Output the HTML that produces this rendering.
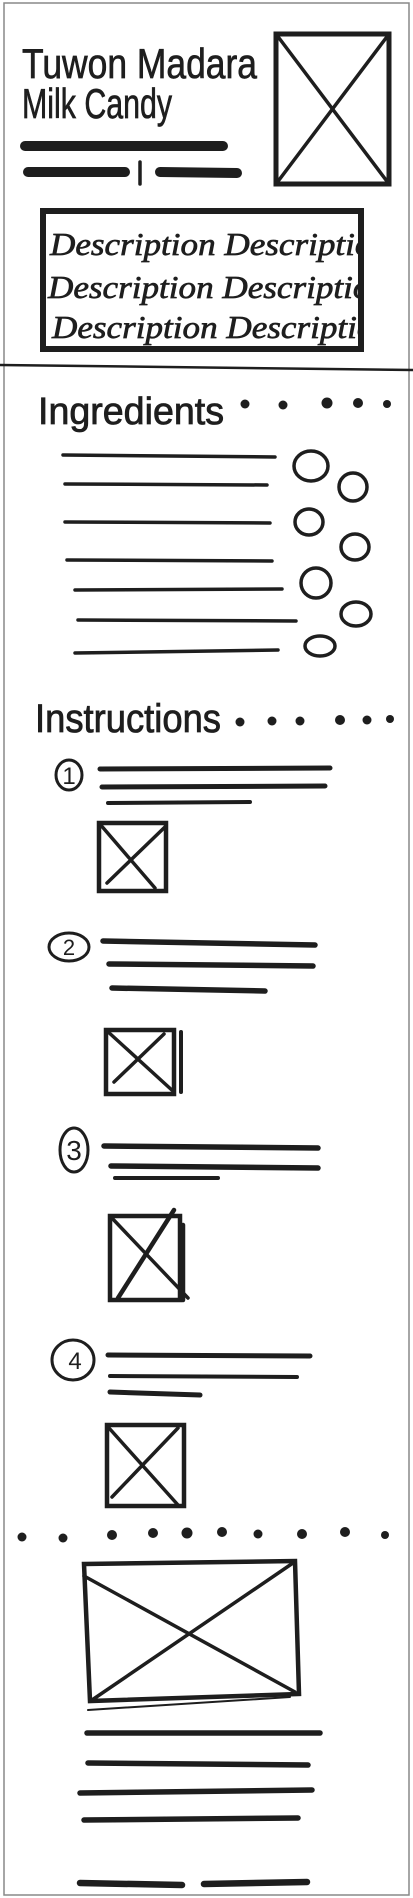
<!DOCTYPE html>
<html><head><meta charset="utf-8">
<style>
html,body{margin:0;padding:0;background:#fff;}
svg{display:block;}
text{font-family:"Liberation Sans",sans-serif;fill:#1e1e1e;}
.desc{font-family:"Liberation Serif",serif;font-style:italic;}
</style></head>
<body>
<svg width="413" height="1898" viewBox="0 0 413 1898" stroke="#1e1e1e" stroke-linecap="round" fill="none">
<rect x="4" y="3" width="405" height="1892" stroke="#888" stroke-width="1.5"/>

<g stroke="#1e1e1e" stroke-width="0.6" fill="#1e1e1e">
<text x="22" y="78" font-size="36" transform="translate(22 78) scale(1 1.15) translate(-22 -78)" textLength="235" lengthAdjust="spacingAndGlyphs">Tuwon Madara</text>
<text x="22" y="118" font-size="36" transform="translate(22 118) scale(1 1.15) translate(-22 -118)" textLength="150" lengthAdjust="spacingAndGlyphs">Milk Candy</text>
</g>
<line x1="25" y1="146" x2="223" y2="146" stroke-width="10"/>
<line x1="28" y1="172" x2="125" y2="172" stroke-width="10"/>
<line x1="140" y1="162" x2="140" y2="184" stroke-width="3.5"/>
<line x1="160" y1="172" x2="237" y2="173" stroke-width="10"/>

<g stroke-width="5">
<rect x="276" y="34" width="113" height="150"/>
<line x1="276" y1="34" x2="389" y2="184" stroke-width="3.5"/>
<line x1="389" y1="34" x2="276" y2="184" stroke-width="3.5"/>
</g>

<g>
<rect x="43" y="211" width="318" height="138" stroke-width="6"/>
<clipPath id="dc"><rect x="46" y="214" width="312" height="132"/></clipPath>
<g clip-path="url(#dc)" stroke="#1e1e1e" stroke-width="0.7" fill="#1e1e1e">
<text class="desc" x="50" y="255" font-size="32" textLength="340" lengthAdjust="spacingAndGlyphs">Description   Description</text>
<text class="desc" x="48" y="298" font-size="32" textLength="340" lengthAdjust="spacingAndGlyphs">Description   Description</text>
<text class="desc" x="52" y="338" font-size="32" textLength="340" lengthAdjust="spacingAndGlyphs">Description   Description</text>
</g>
</g>

<line x1="0" y1="365" x2="413" y2="370" stroke-width="2.5"/>

<text x="38" y="424" font-size="38" stroke="#1e1e1e" stroke-width="0.8" textLength="186" lengthAdjust="spacingAndGlyphs">Ingredients</text>
<g fill="#1e1e1e" stroke="none">
<circle cx="245" cy="404" r="4.5"/><circle cx="283" cy="405" r="4.5"/><circle cx="327" cy="403" r="5.5"/><circle cx="358" cy="403" r="5"/><circle cx="387" cy="404" r="4"/>
</g>
<g stroke-width="3.5">
<line x1="63" y1="455" x2="275" y2="457"/>
<line x1="65" y1="484" x2="267" y2="485"/>
<line x1="65" y1="522" x2="270" y2="523"/>
<line x1="67" y1="560" x2="272" y2="561"/>
<line x1="75" y1="590" x2="282" y2="589"/>
<line x1="78" y1="620" x2="296" y2="621"/>
<line x1="75" y1="653" x2="278" y2="650"/>
</g>
<g stroke-width="3.5">
<ellipse cx="311" cy="466" rx="17" ry="15"/>
<ellipse cx="353" cy="487" rx="14" ry="14"/>
<ellipse cx="309" cy="522" rx="14" ry="13"/>
<ellipse cx="355" cy="547" rx="14" ry="13"/>
<ellipse cx="316" cy="583" rx="15" ry="15"/>
<ellipse cx="356" cy="614" rx="15" ry="12"/>
<ellipse cx="320" cy="646" rx="15" ry="10"/>
</g>

<text x="35" y="732" font-size="40" stroke="#1e1e1e" stroke-width="0.8" textLength="186" lengthAdjust="spacingAndGlyphs">Instructions</text>
<g fill="#1e1e1e" stroke="none">
<circle cx="240" cy="722" r="4.5"/><circle cx="272" cy="721" r="4.5"/><circle cx="300" cy="721" r="4.5"/><circle cx="340" cy="720" r="5"/><circle cx="367" cy="720" r="4.5"/><circle cx="390" cy="719" r="4"/>
</g>

<g>
<ellipse cx="69" cy="775" rx="13" ry="15" stroke-width="3"/>
<text x="69" y="784" font-size="24" text-anchor="middle" stroke="none">1</text>
<line x1="100" y1="769" x2="330" y2="768" stroke-width="5"/>
<line x1="102" y1="787" x2="325" y2="786" stroke-width="5"/>
<line x1="108" y1="803" x2="250" y2="802" stroke-width="4"/>
<rect x="99" y="823" width="67" height="68" stroke-width="4.5"/>
<line x1="99" y1="823" x2="155" y2="888" stroke-width="3.5"/><line x1="166" y1="826" x2="107" y2="883" stroke-width="3.5"/>
</g>
<g>
<ellipse cx="69" cy="947" rx="20" ry="14" stroke-width="3"/>
<text x="69" y="955" font-size="22" text-anchor="middle" stroke="none">2</text>
<line x1="103" y1="941" x2="315" y2="945" stroke-width="5.5"/>
<line x1="109" y1="964" x2="313" y2="966" stroke-width="5.5"/>
<line x1="112" y1="988" x2="265" y2="991" stroke-width="5.5"/>
<rect x="106" y="1030" width="68" height="64" stroke-width="4.5"/>
<line x1="181" y1="1032" x2="181" y2="1092" stroke-width="4"/>
<line x1="106" y1="1030" x2="174" y2="1092" stroke-width="3.5"/><line x1="164" y1="1034" x2="114" y2="1082" stroke-width="3.5"/>
</g>
<g>
<ellipse cx="74" cy="1150" rx="14" ry="22" stroke-width="3"/>
<text x="74" y="1160" font-size="28" text-anchor="middle" stroke="none">3</text>
<line x1="104" y1="1146" x2="318" y2="1148" stroke-width="5.5"/>
<line x1="111" y1="1166" x2="318" y2="1168" stroke-width="5.5"/>
<line x1="115" y1="1178" x2="218" y2="1178" stroke-width="4"/>
<rect x="110" y="1216" width="70" height="84" stroke-width="4.5"/>
<line x1="183" y1="1225" x2="183" y2="1300" stroke-width="4.5"/>
<line x1="110" y1="1216" x2="188" y2="1298" stroke-width="3.5"/><line x1="174" y1="1210" x2="118" y2="1298" stroke-width="4.5"/>
</g>
<g>
<ellipse cx="73" cy="1360" rx="21" ry="20" stroke-width="3"/>
<text x="75" y="1369" font-size="24" text-anchor="middle" stroke="none">4</text>
<line x1="108" y1="1355" x2="310" y2="1356" stroke-width="5"/>
<line x1="110" y1="1376" x2="297" y2="1377" stroke-width="4"/>
<line x1="110" y1="1392" x2="200" y2="1395" stroke-width="5"/>
<rect x="107" y="1425" width="77" height="81" stroke-width="4.5"/>
<line x1="109" y1="1428" x2="178" y2="1505" stroke-width="3.5"/><line x1="178" y1="1428" x2="112" y2="1497" stroke-width="3.5"/>
</g>

<g fill="#1e1e1e" stroke="none">
<circle cx="22" cy="1537" r="4.5"/><circle cx="63" cy="1538" r="4.5"/><circle cx="112" cy="1535" r="5"/><circle cx="153" cy="1533" r="5"/><circle cx="187" cy="1533" r="5.5"/><circle cx="222" cy="1532" r="5"/><circle cx="258" cy="1534" r="4.5"/><circle cx="302" cy="1534" r="5"/><circle cx="345" cy="1532" r="5"/><circle cx="385" cy="1535" r="4"/>
</g>

<g stroke-width="4.5">
<path d="M84 1564 L295 1561 L299 1694 L90 1701 Z"/>
<line x1="84" y1="1576" x2="295" y2="1692" stroke-width="3.5"/>
<line x1="293" y1="1563" x2="92" y2="1700" stroke-width="3.5"/>
<line x1="88" y1="1710" x2="290" y2="1697" stroke-width="2"/>
</g>
<g stroke-width="5.5">
<line x1="87" y1="1733" x2="320" y2="1733"/>
<line x1="88" y1="1763" x2="308" y2="1765"/>
<line x1="80" y1="1793" x2="312" y2="1790"/>
<line x1="84" y1="1820" x2="298" y2="1818"/>
</g>
<g stroke-width="6.5">
<line x1="80" y1="1883" x2="182" y2="1885"/>
<line x1="204" y1="1884" x2="307" y2="1882"/>
</g>
</svg>
</body></html>
